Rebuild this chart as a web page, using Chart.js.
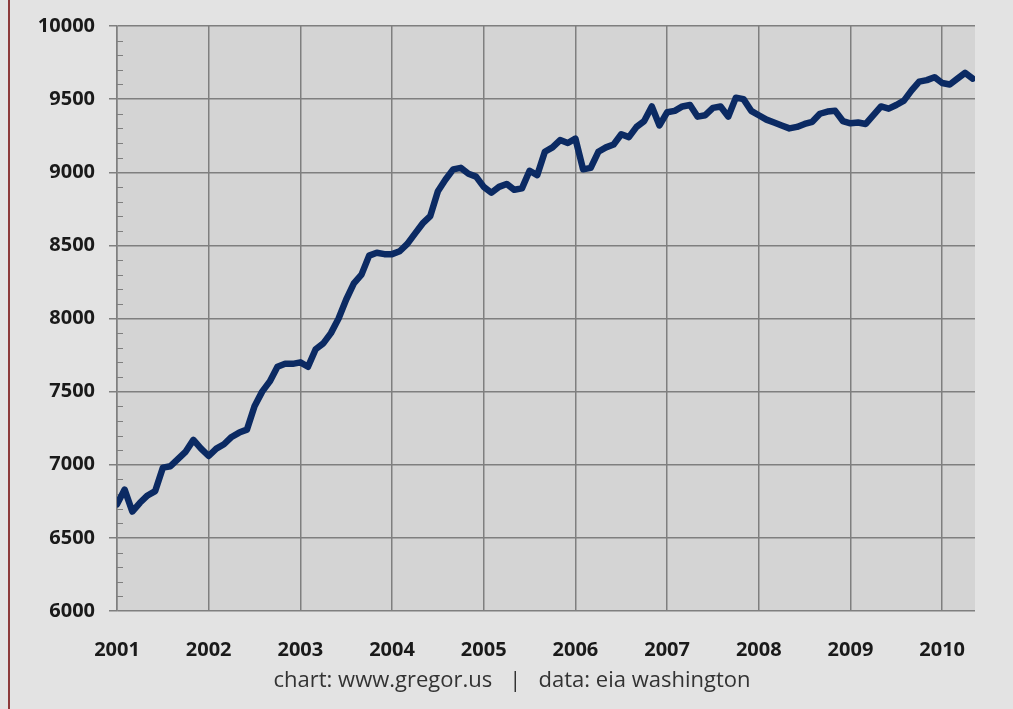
<!DOCTYPE html>
<html>
<head>
<meta charset="utf-8">
<script src="https://cdn.jsdelivr.net/npm/chart.js@4"></script>
<style>
  body { margin: 0; background: #e3e3e3; }
</style>
</head>
<body>
<canvas id="stock-chart" width="1013" height="709"></canvas>
<script>
// year labels on the x axis, one tick every 12 months
let years = ['2001', '2002', '2003', '2004', '2005', '2006', '2007', '2008', '2009', '2010'];

// monthly values, Jan 2001 .. May 2010
let values2001 = [6730, 6830, 6680, 6740, 6790, 6820, 6980, 6990, 7040, 7090, 7170, 7110];
let values2002 = [7060, 7110, 7140, 7190, 7220, 7240, 7400, 7500, 7570, 7670, 7690, 7690];
let values2003 = [7700, 7670, 7790, 7830, 7900, 8000, 8130, 8240, 8300, 8430, 8450, 8440];
let values2004 = [8440, 8460, 8510, 8580, 8650, 8700, 8870, 8950, 9020, 9030, 8990, 8970];
let values2005 = [8900, 8860, 8900, 8920, 8880, 8890, 9010, 8980, 9140, 9170, 9220, 9200];
let values2006 = [9230, 9020, 9030, 9140, 9170, 9190, 9260, 9240, 9310, 9350, 9450, 9320];
let values2007 = [9410, 9420, 9450, 9460, 9380, 9390, 9440, 9450, 9380, 9510, 9500, 9420];
let values2008 = [9390, 9360, 9340, 9320, 9300, 9310, 9330, 9345, 9400, 9415, 9420, 9350];
let values2009 = [9335, 9340, 9330, 9390, 9450, 9435, 9460, 9490, 9560, 9620, 9630, 9650];
let values2010 = [9610, 9600, 9640, 9680, 9640];

// y axis tick labels
let yTicks = [6000, 6500, 7000, 7500, 8000, 8500, 9000, 9500, 10000];

let footer = 'chart: www.gregor.us   |   data: eia washington';

let values = [].concat(values2001, values2002, values2003, values2004, values2005,
  values2006, values2007, values2008, values2009, values2010);
let points = values.map((v, i) => ({ x: i, y: v }));

// background, plot fill, the thin red page border on the left, minor ticks, footer
let backdrop = {
  id: 'backdrop',
  beforeDraw(chart) {
    let { ctx, chartArea: a, width, height } = chart;
    ctx.save();
    ctx.fillStyle = '#e3e3e3';
    ctx.fillRect(0, 0, width, height);
    ctx.fillStyle = '#d4d4d4';
    ctx.fillRect(a.left, a.top, a.right - a.left, a.bottom - a.top);
    ctx.fillStyle = '#8c3a3a';
    ctx.fillRect(8, 0, 2, height);
    ctx.restore();
  },
  beforeDatasetsDraw(chart) {
    // minor ticks every 100 on the inside of the y axis
    let { ctx, chartArea: a } = chart;
    let y = chart.scales.y;
    ctx.save();
    ctx.strokeStyle = '#7f7f7f';
    ctx.lineWidth = 1;
    for (let v = yTicks[0]; v < yTicks[yTicks.length - 1]; v += 100) {
      if (v % 500 === 0) continue;
      let py = Math.round(y.getPixelForValue(v)) + 0.5;
      ctx.beginPath();
      ctx.moveTo(a.left, py);
      ctx.lineTo(a.left + 6, py);
      ctx.stroke();
    }
    ctx.restore();
  },
  afterDraw(chart) {
    let ctx = chart.ctx;
    ctx.save();
    ctx.fillStyle = '#333333';
    ctx.font = '22px "Open Sans"';
    ctx.textAlign = 'center';
    ctx.textBaseline = 'alphabetic';
    ctx.fillText(footer, 512, 687);
    ctx.restore();
  }
};

let context = document.querySelector('#stock-chart').getContext('2d');

let chart = new Chart(context, {
  type: 'line',
  data: {
    datasets: [
      {
        data: points,
        borderColor: '#0b2a63',
        borderWidth: 6.5,
        borderJoinStyle: 'round',
        borderCapStyle: 'round',
        pointRadius: 0,
        tension: 0,
        fill: false,
      },
    ],
  },
  options: {
    responsive: false,
    animation: false,
    layout: { padding: { top: 22, right: 38, left: 0, bottom: 0 } },
    plugins: {
      legend: { display: false },
      tooltip: { enabled: false },
    },
    scales: {
      x: {
        type: 'linear',
        min: 0,
        max: 112.3,
        afterBuildTicks: (scale) => {
          scale.ticks = years.map((y, i) => ({ value: i * 12 }));
        },
        afterFit: (scale) => { scale.height = 98; },
        ticks: {
          callback: (v) => years[v / 12],
          autoSkip: false,
          maxRotation: 0,
          padding: 27,
          color: '#1a1a1a',
          font: { family: 'Open Sans', size: 20, weight: 'bold' },
        },
        grid: { color: '#7f7f7f', lineWidth: 1.5, drawTicks: false },
        border: { display: false },
      },
      y: {
        min: 6000,
        max: 10000,
        afterBuildTicks: (scale) => {
          scale.ticks = yTicks.map((v) => ({ value: v }));
        },
        afterFit: (scale) => { scale.width = 117; },
        ticks: {
          callback: (v) => String(v),
          padding: 14,
          color: '#1a1a1a',
          font: { family: 'Open Sans', size: 20, weight: 'bold' },
        },
        grid: { color: '#7f7f7f', lineWidth: 1.5, tickLength: 8 },
        border: { display: true, color: '#7f7f7f', width: 1.5 },
      },
    },
  },
  plugins: [backdrop],
});
</script>
</body>
</html>
